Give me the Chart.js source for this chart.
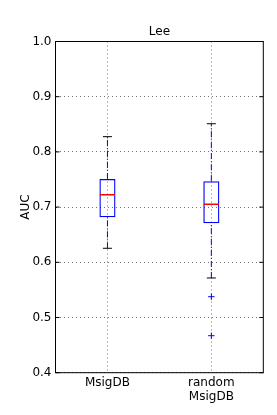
<!DOCTYPE html>
<html>
<head>
<meta charset="utf-8">
<script src="https://cdn.jsdelivr.net/npm/chart.js@4/dist/chart.umd.min.js"></script>
<style>
  body { margin: 0; background: #fff; }
</style>
</head>
<body>
<canvas id="box-chart" width="277" height="415"></canvas>
<script>
// box plot values
const categories = ['MsigDB', 'random MsigDB'];
const q1 = [0.6815, 0.6706];
const q3 = [0.751, 0.747];
const medians = [0.7225, 0.705];
const whiskerLow = [0.6254, 0.5716];
const whiskerHigh = [0.8276, 0.851];
const outliers = [[], [0.5377, 0.467]];
const yTicks = [0.4, 0.5, 0.6, 0.7, 0.8, 0.9, 1.0];

const FONT = 'DejaVu Sans';
Chart.defaults.font.family = FONT;
Chart.defaults.font.size = 12;
Chart.defaults.color = '#000';

// outer box + small inward ticks, like matplotlib
const frame = {
    id: 'frame',
    afterDatasetsDraw(chart) {
        const {ctx, chartArea: a, scales} = chart;
        ctx.save();
        ctx.strokeStyle = '#000';
        ctx.lineWidth = 1;
        ctx.strokeRect(a.left, a.top, a.right - a.left, a.bottom - a.top);
        ctx.beginPath();
        scales.y.ticks.forEach((t, i) => {
            const y = scales.y.getPixelForTick(i);
            ctx.moveTo(a.left, y); ctx.lineTo(a.left + 4, y);
            ctx.moveTo(a.right, y); ctx.lineTo(a.right - 4, y);
        });
        ctx.stroke();
        ctx.restore();
    }
};

// whiskers: one dataset per segment so they don't connect
const whiskers = [];
categories.forEach((c, i) => {
    whiskers.push([{x: c, y: whiskerLow[i]}, {x: c, y: q1[i]}]);
    whiskers.push([{x: c, y: q3[i]}, {x: c, y: whiskerHigh[i]}]);
});

const outlierPoints = [];
outliers.forEach((list, i) => list.forEach(v => outlierPoints.push({x: categories[i], y: v})));

const capPoints = [];
categories.forEach((c, i) => {
    capPoints.push({x: c, y: whiskerLow[i]});
    capPoints.push({x: c, y: whiskerHigh[i]});
});

new Chart(document.querySelector('#box-chart').getContext('2d'), {
    type: 'bar',
    data: {
        labels: categories,
        datasets: [
            {
                type: 'line',
                data: medians.map((m, i) => ({x: categories[i], y: m})),
                showLine: false,
                pointStyle: 'line',
                pointRadius: 7.5,
                pointBorderColor: '#ff0000',
                pointBorderWidth: 1.5
            },
            {
                type: 'line',
                data: outlierPoints,
                showLine: false,
                pointStyle: 'cross',
                pointRadius: 3.2,
                pointBorderColor: '#0000ff',
                pointBorderWidth: 1
            },
            {
                type: 'line',
                data: capPoints,
                showLine: false,
                pointStyle: 'line',
                pointRadius: 4.5,
                pointBorderColor: '#000',
                pointBorderWidth: 1
            },
            {
                data: q1.map((v, i) => [v, q3[i]]),
                backgroundColor: 'rgba(0,0,0,0)',
                borderColor: '#0000ff',
                borderWidth: 1.3,
                borderSkipped: false,
                categoryPercentage: 1,
                barPercentage: 0.155
            },
            ...whiskers.map(seg => ({
                type: 'line',
                data: seg,
                borderColor: '#0000ff',
                borderWidth: 1,
                borderDash: [6, 2, 1, 2],
                pointRadius: 0,
                fill: false
            }))
        ]
    },
    options: {
        responsive: false,
        animation: false,
        layout: { padding: { left: 0, right: 13.7, top: 0, bottom: 0 } },
        plugins: {
            legend: { display: false },
            tooltip: { enabled: false }
        },
        scales: {
            x: {
                type: 'category',
                offset: true,
                grid: { offset: false, color: 'rgba(0,0,0,0.55)', lineWidth: 1, drawTicks: false },
                border: { display: false, dash: [1, 3] },
                ticks: {
                    padding: 3,
                    font: { size: 12, lineHeight: 1.17 },
                    maxRotation: 0,
                    autoSkip: false,
                    callback: (v, i) => categories[i].split(' ')
                },
                afterFit: s => { s.height = 42.3; }
            },
            // top axis only carries the title so it is centred over the plot
            top: {
                type: 'category',
                position: 'top',
                offset: true,
                grid: { display: false, drawTicks: false },
                border: { display: false },
                ticks: { display: false },
                title: { display: true, text: 'Lee', font: { size: 12 }, padding: { top: 25, bottom: 0 } },
                afterFit: s => { s.height = 41.5; }
            },
            y: {
                min: 0.4,
                max: 1.0,
                afterBuildTicks: s => { s.ticks = yTicks.map(v => ({value: v})); },
                grid: { color: 'rgba(0,0,0,0.55)', lineWidth: 1, drawTicks: false },
                border: { display: false, dash: [1, 3] },
                ticks: { padding: 4, callback: v => v.toFixed(1), font: { size: 12 } },
                title: { display: true, text: 'AUC', font: { size: 12 }, padding: { top: 18.5, bottom: 0 } },
                afterFit: s => { s.width = 55.5; }
            }
        }
    },
    plugins: [frame]
});
</script>
</body>
</html>
